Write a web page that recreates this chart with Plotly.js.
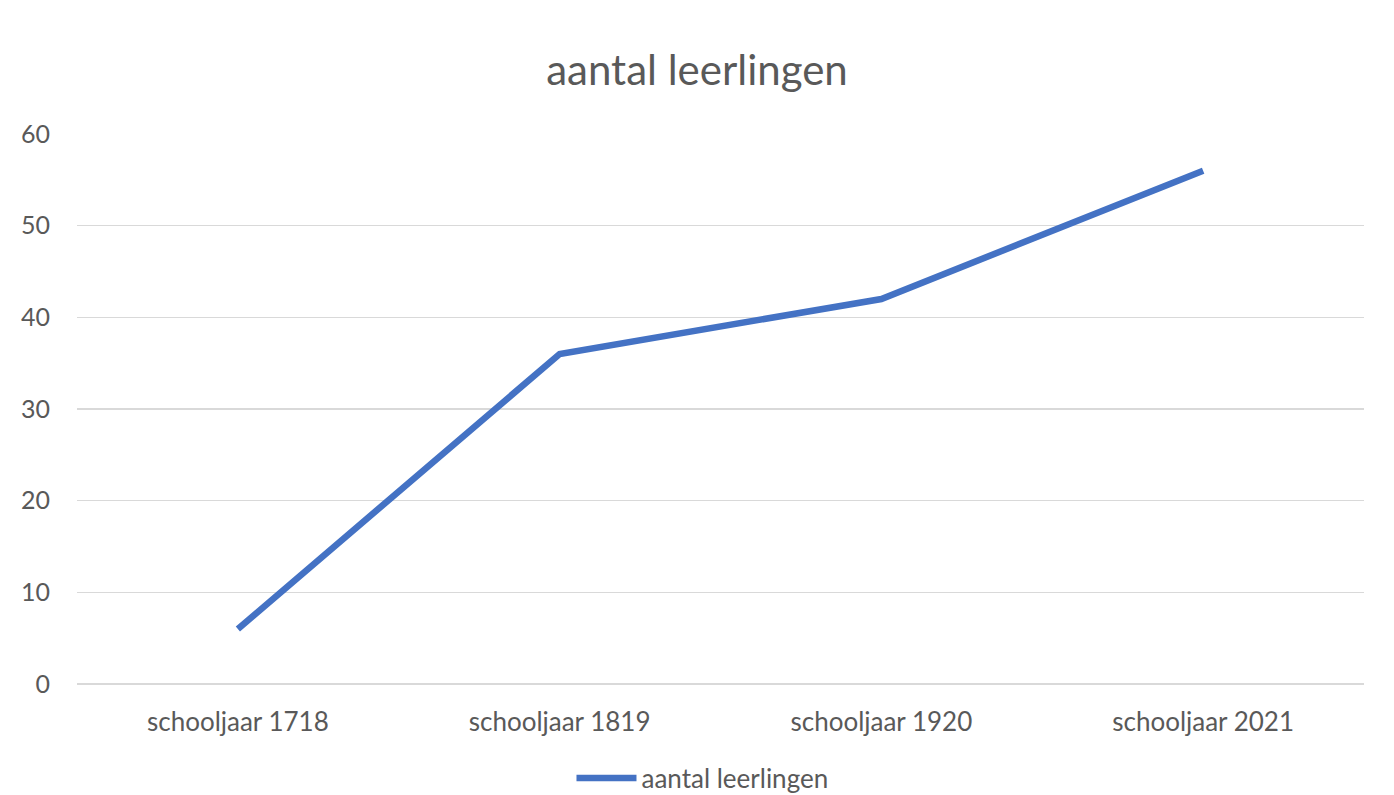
<!DOCTYPE html>
<html>
<head>
<meta charset="utf-8">
<script src="https://cdn.plot.ly/plotly-3.0.1.min.js"></script>
<style>html,body{margin:0;padding:0;background:#fff;}#chart{width:1394px;height:795px;}</style>
</head>
<body>
<div id="chart"></div>
<script>
const categories = ["schooljaar 1718", "schooljaar 1819", "schooljaar 1920", "schooljaar 2021"];
const seriesName = "aantal leerlingen";
const leerlingen = [6, 36, 42, 56];
const yTicks = [0, 10, 20, 30, 40, 50, 60];

const font = "Lato, 'Open Sans', sans-serif";
Plotly.newPlot("chart", [{
  type: "scatter",
  mode: "lines",
  x: categories,
  y: leerlingen,
  name: seriesName,
  line: {color: "#4472C4", width: 6.5}
}], {
  width: 1394, height: 795,
  paper_bgcolor: "#fff", plot_bgcolor: "#fff",
  margin: {l: 77, r: 30, t: 134, b: 111, autoexpand: false},
  title: {text: "aantal leerlingen", x: 0.5, xanchor: "center", yref: "container", y: 1 - 70/795, yanchor: "middle",
          font: {family: font, size: 42, color: "#595959"}},
  xaxis: {type: "category", range: [-0.5, 3.5], showgrid: false, zeroline: false,
          showline: false, ticks: "", ticklabelstandoff: 20,
          tickfont: {family: font, size: 26, color: "#595959"}, fixedrange: true},
  yaxis: {range: [0, 60], tickvals: yTicks, showgrid: true, gridcolor: "#d9d9d9", gridwidth: 1.3,
          zeroline: true, zerolinecolor: "#d9d9d9", zerolinewidth: 1.3, showline: false, ticks: "",
          ticklabelstandoff: 26, tickfont: {family: font, size: 25, color: "#595959"}, fixedrange: true},
  showlegend: true,
  legend: {orientation: "h", x: 0.486, xanchor: "center", yref: "container", y: 17/795, yanchor: "middle",
           font: {family: font, size: 26, color: "#595959"}, itemwidth: 60, tracegroupgap: 0}
}, {displayModeBar: false, staticPlot: true});
</script>
</body>
</html>
